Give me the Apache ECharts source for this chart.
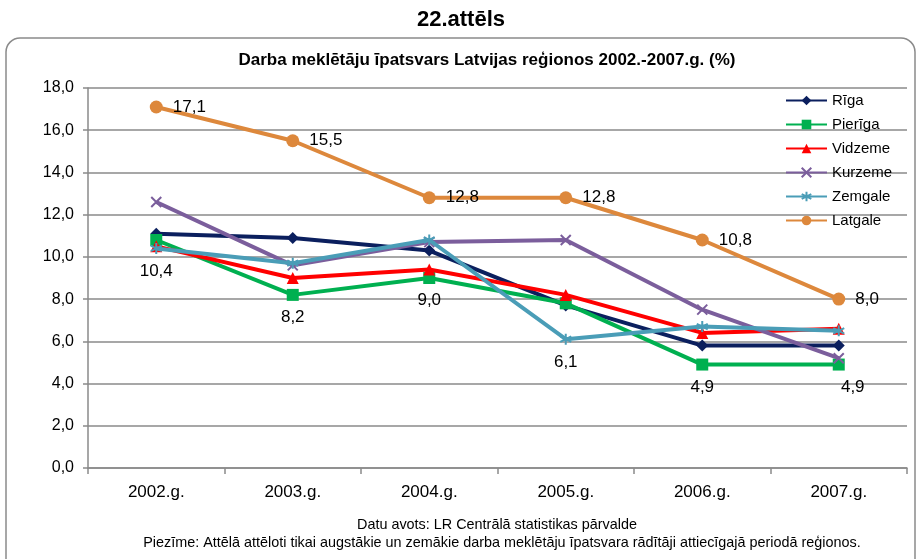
<!DOCTYPE html>
<html><head><meta charset="utf-8">
<script src="https://cdn.jsdelivr.net/npm/echarts@6/dist/echarts.min.js"></script>
<style>html,body{margin:0;padding:0;background:#fff}#c{width:917px;height:559px}</style>
</head><body><div id="c"></div>
<script>
const categories = ['2002.g.', '2003.g.', '2004.g.', '2005.g.', '2006.g.', '2007.g.'];
const seriesNames = ['Rīga', 'Pierīga', 'Vidzeme', 'Kurzeme', 'Zemgale', 'Latgale'];
const riga    = [11.1, 10.9, 10.3, 7.7, 5.8, 5.8];
const pieriga = [10.8, 8.2, 9.0, 7.8, 4.9, 4.9];
const vidzeme = [10.5, 9.0, 9.4, 8.2, 6.4, 6.6];
const kurzeme = [12.6, 9.6, 10.7, 10.8, 7.5, 5.2];
const zemgale = [10.4, 9.7, 10.8, 6.1, 6.7, 6.5];
const latgale = [17.1, 15.5, 12.8, 12.8, 10.8, 8.0];
const yTicks = [0, 2, 4, 6, 8, 10, 12, 14, 16, 18];
const titleText = '22.attēls';
const chartTitle = 'Darba meklētāju īpatsvars Latvijas reģionos 2002.-2007.g. (%)';
const sourceNote = 'Datu avots: LR Centrālā statistikas pārvalde';
const remarkNote = 'Piezīme: Attēlā attēloti tikai augstākie un zemākie darba meklētāju īpatsvara rādītāji attiecīgajā periodā reģionos.';

const FONT = 'Liberation Sans, Arial, sans-serif';
const fmt = v => v.toFixed(1).replace('.', ',');
const colors = ['#0b1f5e', '#00b050', '#ff0000', '#7b5e9c', '#4a9db7', '#dd883c'];
const symbols = ['diamond', 'rect', 'triangle',
  'path://M0,0L10,10M10,0L0,10',
  'path://M5,0L5,10M0,2.5L10,7.5M0,7.5L10,2.5',
  'circle'];
const symSizes = [12, 12, 12, 10, 11, 13];
const allData = [riga, pieriga, vidzeme, kurzeme, zemgale, latgale];

// which points get a value label (series index -> list of [pointIndex, position, offset])
const labelSpec = {
  5: [[0,'right'],[1,'right'],[2,'right'],[3,'right'],[4,'right'],[5,'right']],
  4: [[0,'bottom'],[3,'bottom']],
  1: [[1,'bottom'],[2,'bottom'],[4,'bottom'],[5,'bottom',[14,0]]]
};

const series = allData.map((arr, si) => {
  const spec = labelSpec[si] || [];
  const data = arr.map((v, i) => {
    const s = spec.find(e => e[0] === i);
    if (!s) return v;
    return {
      value: v,
      label: {
        show: true, position: s[1], distance: s[1] === 'right' ? 10 : 8,
        offset: s[2] || [0, 0],
        formatter: p => fmt(p.value), fontSize: 17, color: '#000', fontFamily: FONT
      }
    };
  });
  const isStroke = si === 3 || si === 4;
  return {
    name: seriesNames[si], type: 'line', data,
    symbol: symbols[si], symbolSize: symSizes[si],
    color: colors[si],
    lineStyle: { width: 4, color: colors[si] },
    itemStyle: isStroke ? { color: colors[si], borderColor: colors[si], borderWidth: 2 } : { color: colors[si] },
    z: 2 + si
  };
});

const chart = echarts.init(document.getElementById('c'), null, { renderer: 'canvas' });
chart.setOption({
  animation: false,
  textStyle: { fontFamily: FONT },
  title: [
    { text: titleText, left: 456, textAlign: 'center', top: 4, textStyle: { fontSize: 22, fontWeight: 'bold', color: '#000', fontFamily: FONT } },
    { text: chartTitle, left: 482, textAlign: 'center', top: 47, textStyle: { fontSize: 17, fontWeight: 'bold', color: '#000', fontFamily: FONT } }
  ],
  graphic: [
    { type: 'rect', shape: { x: 6, y: 38, width: 909, height: 560, r: 14 }, style: { fill: 'none', stroke: '#8a8a8a', lineWidth: 1.5 }, silent: true, z: -1 },
    { type: 'text', x: 497, y: 518, style: { text: sourceNote, font: '14.4px ' + FONT, fill: '#000', textAlign: 'center' } },
    { type: 'text', x: 502, y: 536, style: { text: remarkNote, font: '14.4px ' + FONT, fill: '#000', textAlign: 'center' } }
  ],
  legend: {
    orient: 'vertical', left: 780, top: 88, itemWidth: 41, itemHeight: 12, itemGap: 9,
    data: seriesNames,
    textStyle: { fontSize: 15, color: '#000', fontFamily: FONT },
    lineStyle: { width: 2 }
  },
  grid: { left: 88, right: 10, top: 88, bottom: 91 },
  xAxis: {
    type: 'category', data: categories, boundaryGap: true,
    axisLine: { lineStyle: { color: '#8a8a8a', width: 1.5 } },
    axisTick: { show: true, length: 6, lineStyle: { color: '#8a8a8a', width: 1.5 } },
    axisLabel: { fontSize: 17, color: '#000', margin: 16, fontFamily: FONT }
  },
  yAxis: {
    type: 'value', min: yTicks[0], max: yTicks[yTicks.length - 1], interval: 2,
    axisLine: { show: true, lineStyle: { color: '#8a8a8a', width: 1.5 } },
    axisTick: { show: true, length: 5, lineStyle: { color: '#8a8a8a', width: 1.5 } },
    axisLabel: { fontSize: 16, color: '#000', margin: 14, formatter: v => fmt(v), fontFamily: FONT },
    splitLine: { lineStyle: { color: '#8a8a8a', width: 1.5 } }
  },
  series
});
</script></body></html>
